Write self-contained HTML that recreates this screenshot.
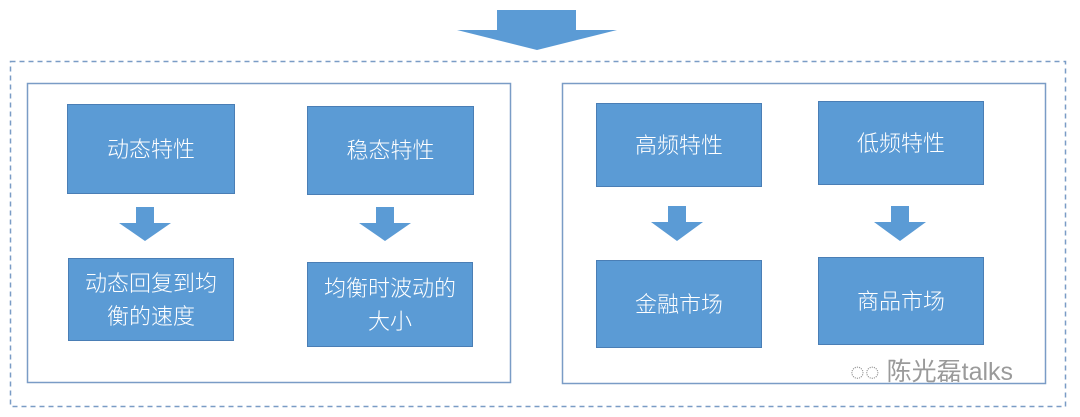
<!DOCTYPE html>
<html><head><meta charset="utf-8"><style>
body{margin:0;width:1080px;height:417px;background:#fff;position:relative;overflow:hidden;font-family:"Liberation Sans","Noto Sans CJK SC",sans-serif}
.a{position:absolute}
.b{position:absolute;background:#5b9bd5;border:1.5px solid #4a7eb5;box-sizing:border-box;color:#fff;font-size:22px;font-weight:300;display:flex;align-items:center;justify-content:center;text-align:center;line-height:1.5}
</style></head><body>
<svg class="a" style="left:0;top:0" width="1080" height="417">
<polygon points="497,10 576,10 576,30 617,30 537,50 457,30 497,30" fill="#5b9bd5"/>
<rect x="10.5" y="61.5" width="1055" height="345" fill="none" stroke="#7a9cc6" stroke-width="1.5" stroke-dasharray="5,4"/>
<rect x="27.5" y="83.5" width="483" height="299" fill="none" stroke="#7a9cc6" stroke-width="1.5"/>
<rect x="562.5" y="83.5" width="483" height="300" fill="none" stroke="#7a9cc6" stroke-width="1.5"/>
<g fill="#5b9bd5">
<polygon points="136,207 154,207 154,223 171,223 145,241 119,223 136,223"/>
<polygon points="376,207 394,207 394,223 411,223 385,241 359,223 376,223"/>
<polygon points="668,206 686,206 686,222 703,222 677,241 651,222 668,222"/>
<polygon points="891,206 909,206 909,222 926,222 900,241 874,222 891,222"/>
</g>
</svg>
<div class="b" style="left:67px;top:104px;width:168px;height:90px">动态特性</div>
<div class="b" style="left:307px;top:106px;width:167px;height:89px">稳态特性</div>
<div class="b" style="left:596px;top:103px;width:166px;height:84px">高频特性</div>
<div class="b" style="left:818px;top:101px;width:166px;height:84px">低频特性</div>
<div class="b" style="left:68px;top:258px;width:166px;height:83px">动态回复到均<br>衡的速度</div>
<div class="b" style="left:307px;top:262px;width:166px;height:85px">均衡时波动的<br>大小</div>
<div class="b" style="left:596px;top:260px;width:166px;height:88px">金融市场</div>
<div class="b" style="left:818px;top:257px;width:166px;height:88px">商品市场</div>
<div class="a" style="left:850px;top:352px;font-size:25px;color:#9a9a9a;white-space:nowrap">◌◌ 陈光磊talks</div>
</body></html>
